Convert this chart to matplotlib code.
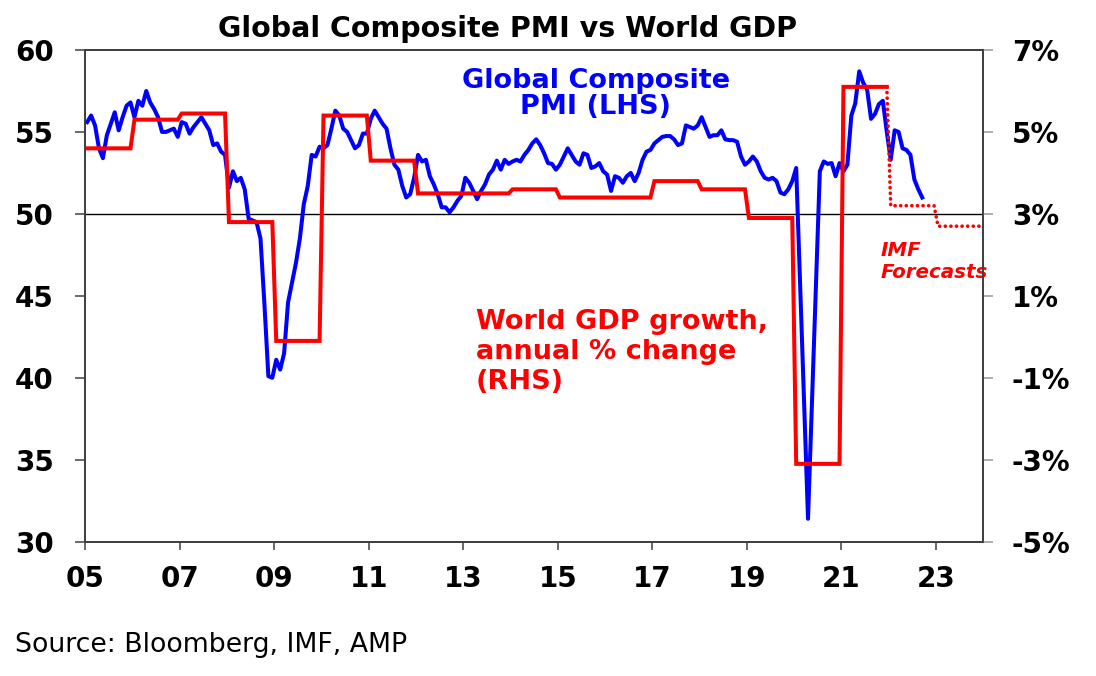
import numpy as np
import matplotlib
matplotlib.use("Agg")
import matplotlib.pyplot as plt

plt.rcParams['font.family'] = ['DejaVu Sans']

# Global composite PMI, monthly from Jan 2005 to Sep 2022
pmi_2005 = [55.6, 56.0, 55.4, 54.0, 53.4, 54.8, 55.5, 56.2, 55.1, 55.9, 56.6, 56.8]
pmi_2006 = [55.9, 56.9, 56.6, 57.5, 56.8, 56.4, 55.9, 55.0, 55.0, 55.1, 55.2, 54.7]
pmi_2007 = [55.6, 55.5, 54.9, 55.3, 55.6, 55.9, 55.5, 55.1, 54.2, 54.3, 53.8, 53.6]
pmi_2008 = [51.6, 52.6, 52.0, 52.2, 51.5, 49.7, 49.6, 49.5, 48.5, 44.5, 40.1, 40.0]
pmi_2009 = [41.1, 40.5, 41.5, 44.6, 45.8, 47.0, 48.5, 50.6, 51.7, 53.6, 53.5, 54.1]
pmi_2010 = [54.0, 54.2, 55.2, 56.3, 56.0, 55.2, 55.0, 54.5, 54.0, 54.2, 54.9, 54.9]
pmi_2011 = [55.8, 56.3, 55.9, 55.5, 55.2, 54.0, 53.0, 52.7, 51.7, 51.0, 51.2, 52.2]
pmi_2012 = [53.6, 53.2, 53.3, 52.3, 51.8, 51.2, 50.4, 50.4, 50.1, 50.4, 50.8, 51.1]
pmi_2013 = [52.2, 51.9, 51.4, 50.9, 51.4, 51.8, 52.4, 52.7, 53.25, 52.7, 53.3, 53.05]
pmi_2014 = [53.2, 53.3, 53.2, 53.6, 53.9, 54.3, 54.55, 54.2, 53.7, 53.1, 53.05, 52.7]
pmi_2015 = [53.0, 53.5, 54.0, 53.6, 53.2, 53.0, 53.7, 53.6, 52.8, 52.9, 53.1, 52.6]
pmi_2016 = [52.4, 51.4, 52.3, 52.2, 51.9, 52.3, 52.5, 52.0, 52.5, 53.3, 53.8, 53.9]
pmi_2017 = [54.3, 54.5, 54.7, 54.75, 54.75, 54.55, 54.2, 54.3, 55.4, 55.3, 55.2, 55.4]
pmi_2018 = [55.9, 55.3, 54.7, 54.8, 54.8, 55.1, 54.55, 54.5, 54.5, 54.4, 53.5, 53.0]
pmi_2019 = [53.2, 53.5, 53.2, 52.6, 52.2, 52.1, 52.2, 52.0, 51.3, 51.2, 51.5, 52.0]
pmi_2020 = [52.8, 45.7, 38.5, 31.4, 38.5, 45.5, 52.6, 53.2, 53.05, 53.1, 52.3, 53.1]
pmi_2021 = [52.6, 53.0, 56.0, 56.75, 58.7, 58.0, 57.6, 55.8, 56.1, 56.7, 56.9, 55.0]
pmi_2022 = [53.3, 55.1, 55.0, 54.0, 53.9, 53.6, 52.1, 51.5, 51.0]

# World GDP growth, annual % change (IMF)
gdp_years = list(range(2005, 2022))
gdp_actual = [4.6, 5.3, 5.45, 2.8, -0.1, 5.4, 4.3, 3.5, 3.5, 3.6, 3.4, 3.4, 3.8, 3.6, 2.9, -3.1, 6.1]
fcst_years = [2022, 2023]
gdp_forecast = [3.2, 2.7]

pmi = np.concatenate([pmi_2005, pmi_2006, pmi_2007, pmi_2008, pmi_2009, pmi_2010,
                      pmi_2011, pmi_2012, pmi_2013, pmi_2014, pmi_2015, pmi_2016,
                      pmi_2017, pmi_2018, pmi_2019, pmi_2020, pmi_2021, pmi_2022])
pmi_x = 2005 + (np.arange(len(pmi)) + 0.5) / 12

# monthly step series for GDP (mid-month points)
gdp_m = np.repeat(gdp_actual, 12)
gdp_x = gdp_years[0] + (np.arange(len(gdp_m)) + 0.5) / 12
fc_m = np.concatenate([[gdp_actual[-1]], np.repeat(gdp_forecast, 12)])
fc_x = fcst_years[0] + (np.arange(-1, len(fc_m) - 1) + 0.5) / 12

blue = '#0000FF'
red = '#FF0000'
spine_col = '#404040'

fig = plt.figure(figsize=(10.96, 6.76), dpi=100)
ax = fig.add_axes([85.2 / 1096, 1 - 541.7 / 676, (983.3 - 85.2) / 1096, (541.7 - 50) / 676])
ax2 = ax.twinx()

ax.axhline(50, color='black', lw=1.0, zorder=1)
ax.plot(pmi_x, pmi, color=blue, lw=2.9, solid_joinstyle='round', zorder=3)
ax2.plot(gdp_x, gdp_m, color=red, lw=2.9, solid_joinstyle='miter')
ax2.plot(fc_x, fc_m, color=red, lw=2.6, linestyle=(0, (0.05, 1.5)), dash_capstyle='round')

ax.set_xlim(2005, 2024)
ax.set_ylim(30, 60)
ax2.set_ylim(-5, 7)

ax.set_xticks(range(2005, 2024, 2))
ax.set_xticklabels([f"{y % 100:02d}" for y in range(2005, 2024, 2)])
ax.set_yticks(range(30, 61, 5))
ax2.set_yticks(range(-5, 8, 2))
ax2.set_yticklabels([f"{v}%" for v in range(-5, 8, 2)])

for a in (ax, ax2):
    for s in a.spines.values():
        s.set_color(spine_col)
        s.set_linewidth(1.3)
ax.tick_params(axis='y', direction='out', length=7.5, width=1.1, color=spine_col, pad=15,
               labelsize=20)
ax.tick_params(axis='x', direction='out', length=6, width=1.1, color=spine_col, pad=11,
               labelsize=20)
ax2.tick_params(axis='y', direction='out', length=7.5, width=1.1, color='#999999', pad=13,
                labelsize=20)
for lab in ax.get_xticklabels() + ax.get_yticklabels() + ax2.get_yticklabels():
    lab.set_fontweight('bold')

ax.text(2015.8, 57.3, "Global Composite\nPMI (LHS)", color=blue, fontsize=19.5,
        fontweight='bold', ha='center', va='center', linespacing=1.0, zorder=5)
ax.text(2013.27, 41.6, "World GDP growth,\nannual % change\n(RHS)", color=red, fontsize=19.5,
        fontweight='bold', ha='left', va='center', linespacing=1.2, zorder=5)
ax.text(2021.82, 47.1, "IMF\nForecasts", color=red, fontsize=14.3, fontweight='bold',
        fontstyle='italic', ha='left', va='center', linespacing=1.15, zorder=5)

fig.text(508 / 1096, 1 - 37 / 676, "Global Composite PMI vs World GDP", fontsize=20.5,
         fontweight='bold', ha='center', va='baseline')
fig.text(15 / 1096, 1 - 652 / 676, "Source: Bloomberg, IMF, AMP", fontsize=19.3,
         ha='left', va='baseline')

fig.savefig("out.png", dpi=100)
